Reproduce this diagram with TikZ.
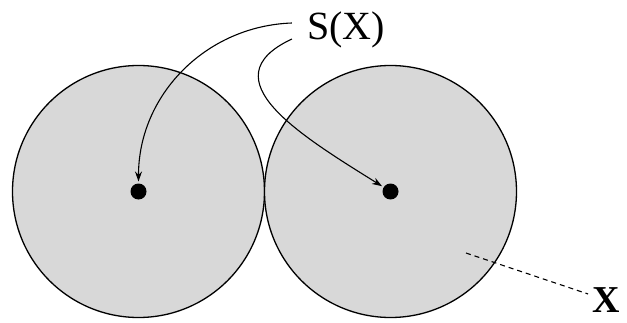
\documentclass[tikz,border=0pt]{standalone}
\usepackage{fontspec}
\setmainfont{Liberation Serif}
\usetikzlibrary{positioning,arrows.meta}
\definecolor{diskgrey}{HTML}{D8D8D8}
\tikzset{
  disk/.style={circle, draw=black, fill=diskgrey, line width=1.3pt,
               minimum size=252pt, inner sep=0pt, outer sep=0pt},
  ctr/.style={circle, fill=black, minimum size=16pt, inner sep=0pt, outer sep=2pt},
  ar/.style={-{Stealth[length=10pt,width=7pt]}, line width=1.1pt},
  lbl/.style={font=\fontsize{40}{44}\selectfont, inner ysep=2pt, inner xsep=15pt},
}
\begin{document}
\begin{tikzpicture}[x=1pt,y=1pt]
  \useasboundingbox (0,0) rectangle (627,322);
  \node[disk] (dL) at (138.5,130.5) {};
  \node[disk, right=0pt of dL] (dR) {};
  \node[ctr] (cL) at (dL.center) {};
  \node[ctr] (cR) at (dR.center) {};

  \node[lbl] (sx) at (346,292) {S(X)};
  \node[lbl, font=\fontsize{38}{42}\selectfont\bfseries, inner sep=4pt] (xl) at (606,22) {X};
  \coordinate (xp) at (466,69);

  \draw[ar] ([yshift=7pt]sx.west) to[out=182,in=90] (cL);
  \draw[ar] ([yshift=-9pt]sx.west) to[out=205,in=148,looseness=1.4] (cR);
  \draw[line width=1.1pt, dash pattern=on 5pt off 4pt] (xp) -- (xl);
\end{tikzpicture}
\end{document}
